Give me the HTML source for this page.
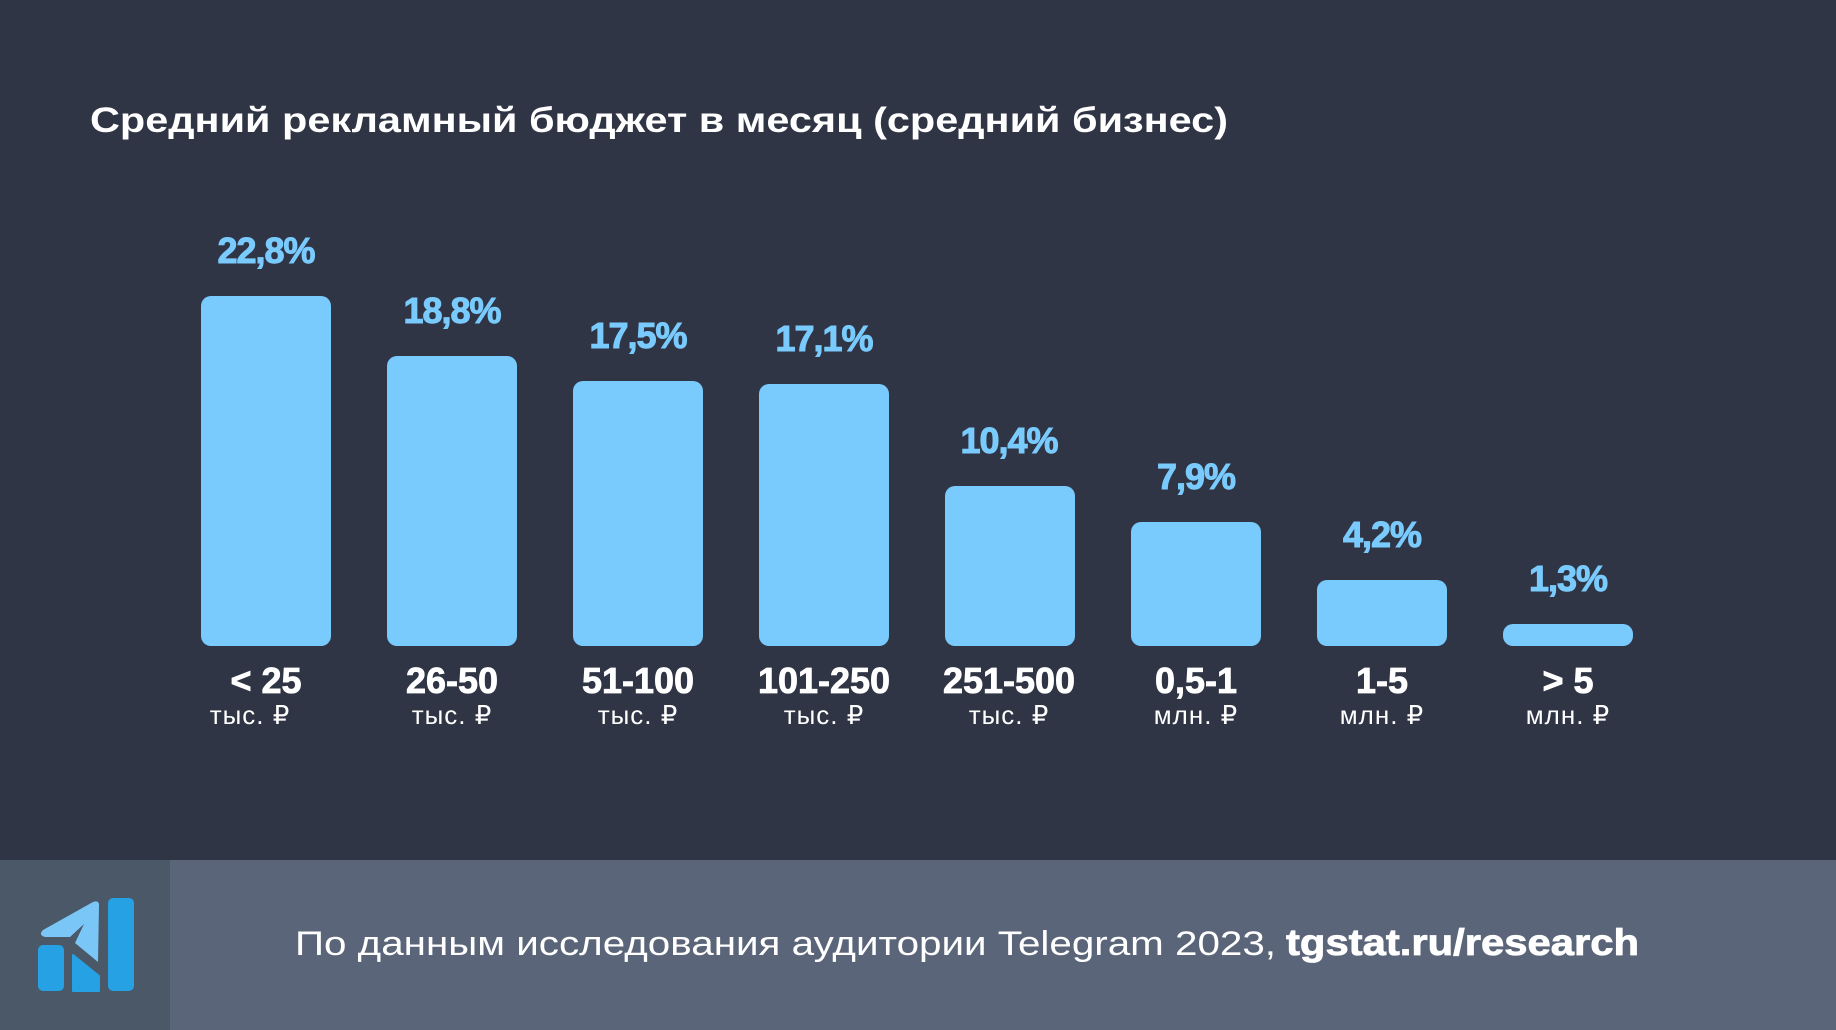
<!DOCTYPE html>
<html><head><meta charset="utf-8"><style>
html,body{margin:0;padding:0;background:#303545;}
svg{display:block}
</style></head><body>
<svg width="1836" height="1030" viewBox="0 0 1836 1030" xmlns="http://www.w3.org/2000/svg" font-family="Liberation Sans, sans-serif">
<rect x="0" y="0" width="1836" height="860" fill="#303545"/>
<rect x="0" y="860" width="1836" height="170" fill="#5b6579"/>
<rect x="0" y="860" width="170" height="170" fill="#4a5868"/>
<!-- logo -->
<rect x="38" y="945" width="26" height="46" rx="5" fill="#26a1e3"/>
<path d="M73 955 L99 976 L99 991 L73 991 Z" fill="#26a1e3" stroke="#26a1e3" stroke-width="2" stroke-linejoin="round"/>
<rect x="108" y="898" width="26" height="93" rx="5" fill="#26a1e3"/>
<path d="M43 930 Q38 935 45 937 L70 937 L84 924 L75 943 L98 962 L99 905 Q99 900 93 902 Z" fill="#7ac7f7"/>
<text x="90" y="132" fill="#ffffff" font-size="35" font-weight="bold" textLength="1138" lengthAdjust="spacingAndGlyphs">Средний рекламный бюджет в месяц (средний бизнес)</text>
<g fill="#7acbfd">
<rect x="201" y="296" width="130" height="350" rx="10"/>
<rect x="387" y="356" width="130" height="290" rx="10"/>
<rect x="573" y="381" width="130" height="265" rx="10"/>
<rect x="759" y="384" width="130" height="262" rx="10"/>
<rect x="945" y="486" width="130" height="160" rx="10"/>
<rect x="1131" y="522" width="130" height="124" rx="10"/>
<rect x="1317" y="580" width="130" height="66" rx="10"/>
<rect x="1503" y="624" width="130" height="22" rx="10"/>
</g>
<g fill="#7acbfd" font-size="36" font-weight="bold" text-anchor="middle" letter-spacing="-1" stroke="#7acbfd" stroke-width="1">
<text x="266" y="263">22,8%</text>
<text x="452" y="323">18,8%</text>
<text x="638" y="348">17,5%</text>
<text x="824" y="351">17,1%</text>
<text x="1009" y="453">10,4%</text>
<text x="1196" y="489">7,9%</text>
<text x="1382" y="547">4,2%</text>
<text x="1568" y="591">1,3%</text>
</g>
<g fill="#ffffff" font-size="36" font-weight="bold" text-anchor="middle" stroke="#ffffff" stroke-width="0.8">
<text x="266" y="693">&lt; 25</text>
<text x="452" y="693">26-50</text>
<text x="638" y="693">51-100</text>
<text x="824" y="693">101-250</text>
<text x="1009" y="693">251-500</text>
<text x="1196" y="693">0,5-1</text>
<text x="1382" y="693">1-5</text>
<text x="1568" y="693">&gt; 5</text>
</g>
<g fill="#ffffff" font-size="26" text-anchor="middle" letter-spacing="1">
<text x="250" y="724">тыс. ₽</text>
<text x="452" y="724">тыс. ₽</text>
<text x="638" y="724">тыс. ₽</text>
<text x="824" y="724">тыс. ₽</text>
<text x="1009" y="724">тыс. ₽</text>
<text x="1196" y="724">млн. ₽</text>
<text x="1382" y="724">млн. ₽</text>
<text x="1568" y="724">млн. ₽</text>
</g>
<text x="295" y="955" fill="#ffffff" font-size="34" textLength="981" lengthAdjust="spacingAndGlyphs">По данным исследования аудитории Telegram 2023,</text>
<text x="1286" y="955" fill="#ffffff" font-size="37" font-weight="bold" stroke="#ffffff" stroke-width="0.8" textLength="353" lengthAdjust="spacingAndGlyphs">tgstat.ru/research</text>
</svg>
</body></html>
